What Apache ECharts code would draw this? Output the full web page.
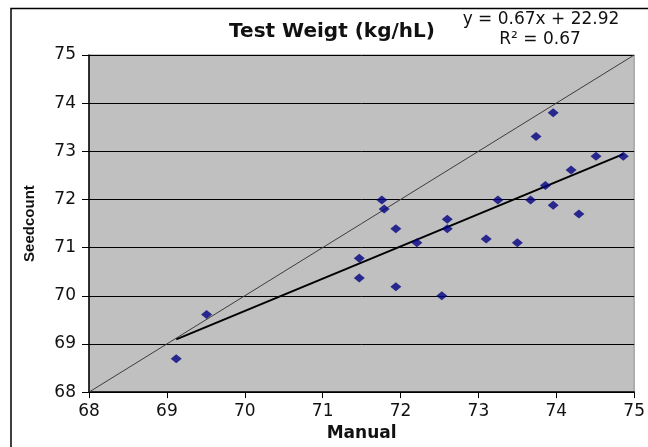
<!DOCTYPE html>
<html>
<head>
<meta charset="utf-8">
<script src="https://cdn.jsdelivr.net/npm/echarts@6/dist/echarts.min.js"></script>
<style>
  html, body { margin: 0; padding: 0; background: #ffffff; }
  #chart { width: 648px; height: 447px; }
</style>
</head>
<body>
<div id="chart"></div>
<script>
// ---- Data ----
const manual = [69.12, 69.51, 71.47, 71.47, 71.76, 71.79, 71.94, 71.94, 72.21, 72.53, 72.60, 72.60,
                73.10, 73.25, 73.50, 73.67, 73.74, 73.86, 73.96, 73.96, 74.19, 74.29, 74.51, 74.86];
const seedcount = [68.69, 69.61, 70.78, 70.37, 71.99, 71.80, 71.39, 70.19, 71.10, 70.00, 71.59, 71.39,
                   71.18, 71.99, 71.10, 71.99, 73.31, 72.29, 73.80, 71.88, 72.61, 71.70, 72.90, 72.90];
const axisTicks = [68, 69, 70, 71, 72, 73, 74, 75];
const titleText = 'Test Weigt (kg/hL)';
const equationText = 'y = 0.67x + 22.92';
const r2Text = 'R² = 0.67';
const xName = 'Manual';
const yName = 'Seedcount';

// ---- Derived ----
const points = manual.map((x, i) => [x, seedcount[i]]);
const n = manual.length;
const mx = manual.reduce((a, b) => a + b, 0) / n;
const my = seedcount.reduce((a, b) => a + b, 0) / n;
let sxx = 0, sxy = 0;
for (let i = 0; i < n; i++) { sxx += (manual[i] - mx) ** 2; sxy += (manual[i] - mx) * (seedcount[i] - my); }
const slope = sxy / sxx;
const intercept = my - slope * mx;
const xMin = Math.min(...manual), xMax = Math.max(...manual);
const trend = [[xMin, slope * xMin + intercept], [xMax, slope * xMax + intercept]];
const lo = axisTicks[0], hi = axisTicks[axisTicks.length - 1];
const identity = [[lo, lo], [hi, hi]];

const chart = echarts.init(document.getElementById('chart'), null, { renderer: 'canvas' });
const tickFont = { fontFamily: 'DejaVu Sans', fontSize: 17, color: '#111111' };

chart.setOption({
  backgroundColor: '#ffffff',
  animation: false,
  grid: {
    left: 89, right: 10, top: 55, bottom: 49,
    show: true, backgroundColor: '#c0c0c0', borderColor: '#8a8a8a', borderWidth: 1
  },
  xAxis: {
    type: 'value', min: lo, max: hi, interval: 1,
    name: xName, nameLocation: 'middle', nameGap: 28,
    nameTextStyle: { fontFamily: 'DejaVu Sans', fontWeight: 'bold', fontSize: 17, color: '#111' },
    axisLine: { show: true, lineStyle: { color: '#000', width: 1.5 } },
    axisTick: { show: true, length: 6, lineStyle: { color: '#000', width: 1 } },
    axisLabel: Object.assign({ margin: 11 }, tickFont),
    splitLine: { show: false }
  },
  yAxis: {
    type: 'value', min: lo, max: hi, interval: 1,
    name: yName, nameLocation: 'middle', nameGap: 52, nameRotate: 90,
    nameTextStyle: { fontFamily: 'Liberation Sans', fontWeight: 'bold', fontSize: 15, color: '#111' },
    axisLine: { show: true, lineStyle: { color: '#000', width: 1.5 } },
    axisTick: { show: true, length: 7, lineStyle: { color: '#000', width: 1 } },
    axisLabel: Object.assign({ margin: 13 }, tickFont),
    splitLine: { show: true, lineStyle: { color: '#000', width: 1 } }
  },
  series: [
    {
      type: 'line', data: identity, symbol: 'none', silent: true,
      lineStyle: { color: '#3c3c3c', width: 1 }, z: 2
    },
    {
      type: 'line', data: trend, symbol: 'none', silent: true,
      lineStyle: { color: '#000', width: 2 }, z: 3
    },
    {
      type: 'scatter', data: points, symbol: 'diamond', symbolSize: [11, 9],
      itemStyle: { color: '#000080' }, z: 4
    }
  ],
  graphic: [
    {
      type: 'rect', silent: true, z: -1,
      shape: { x: 11, y: 8.5, width: 700, height: 500 },
      style: { fill: 'none', stroke: '#000', lineWidth: 1.5 }
    },
    {
      type: 'text', x: 332, y: 32,
      style: { text: titleText, fontFamily: 'DejaVu Sans', fontWeight: 'bold', fontSize: 20,
               fill: '#111', align: 'center', verticalAlign: 'middle' }
    },
    {
      type: 'text', x: 541, y: 20,
      style: { text: equationText, fontFamily: 'DejaVu Sans', fontSize: 17,
               fill: '#111', align: 'center', verticalAlign: 'middle' }
    },
    {
      type: 'text', x: 540, y: 40,
      style: { text: r2Text, fontFamily: 'DejaVu Sans', fontSize: 17,
               fill: '#111', align: 'center', verticalAlign: 'middle' }
    }
  ]
});
</script>
</body>
</html>
